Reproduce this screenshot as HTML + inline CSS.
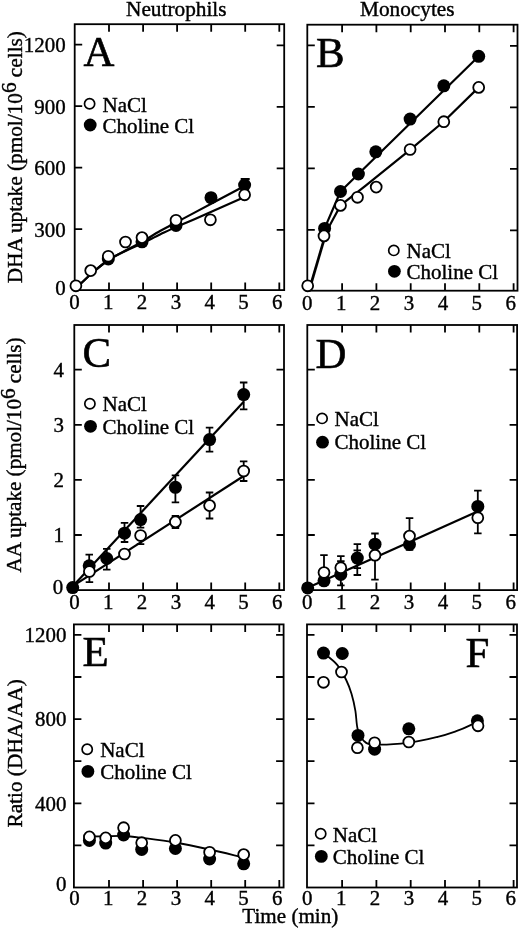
<!DOCTYPE html>
<html><head><meta charset="utf-8"><style>html,body{margin:0;padding:0;background:#fff;width:520px;height:928px;overflow:hidden}svg{display:block;will-change:transform}</style></head>
<body>
<svg width="520" height="928" viewBox="0 0 520 928">
<style>text{font-family:"Liberation Serif",serif;fill:#000;stroke:#000;stroke-width:0.4px}.t{font-size:21.8px}.lg{font-size:21px}.big{font-size:42.8px;stroke-width:0.6px}.ax{font-size:21.5px}.ti{font-size:21.3px}</style>
<rect width="520" height="928" fill="#fff"/>
<text x="176.3" y="15.6" text-anchor="middle" class="ti">Neutrophils</text>
<text x="407.3" y="15.6" text-anchor="middle" class="ti">Monocytes</text>
<text x="290.3" y="922.8" text-anchor="middle" class="t" style="font-size:21.1px">Time (min)</text>
<text transform="translate(21.5 157.2) rotate(-90) scale(0.99 1)" text-anchor="middle" class="ax">DHA uptake (pmol/10<tspan dy="-6">6</tspan><tspan dy="6"> cells)</tspan></text>
<text transform="translate(21.3 455) rotate(-90) scale(0.982 1)" text-anchor="middle" class="ax">AA uptake (pmol/10<tspan dy="-6">6</tspan><tspan dy="6"> cells)</tspan></text>
<text transform="translate(22.0 753.4) rotate(-90) scale(0.99 1)" text-anchor="middle" class="ax">Ratio (DHA/AA)</text>
<rect x="74.7" y="24.2" width="209.5" height="265.9" fill="none" stroke="#000" stroke-width="1.8"/>
<path d="M109.0 290.1v-7.5M109.0 24.2v7.5M143.1 290.1v-7.5M143.1 24.2v7.5M177.1 290.1v-7.5M177.1 24.2v7.5M211.2 290.1v-7.5M211.2 24.2v7.5M245.2 290.1v-7.5M245.2 24.2v7.5M279.3 290.1v-7.5M279.3 24.2v7.5M74.7 229.1h7.5M284.2 229.8h-7.5M74.7 167.6h7.5M284.2 168.3h-7.5M74.7 106.1h7.5M284.2 106.8h-7.5M74.7 44.7h7.5M284.2 45.4h-7.5" stroke="#000" stroke-width="1.8" fill="none"/>
<text transform="translate(74.5 309.1) scale(0.96 1)" text-anchor="middle" class="t">0</text>
<text transform="translate(108.3 309.1) scale(0.96 1)" text-anchor="middle" class="t">1</text>
<text transform="translate(142.1 309.1) scale(0.96 1)" text-anchor="middle" class="t">2</text>
<text transform="translate(175.9 309.1) scale(0.96 1)" text-anchor="middle" class="t">3</text>
<text transform="translate(209.7 309.1) scale(0.96 1)" text-anchor="middle" class="t">4</text>
<text transform="translate(243.5 309.1) scale(0.96 1)" text-anchor="middle" class="t">5</text>
<text transform="translate(277.3 309.1) scale(0.96 1)" text-anchor="middle" class="t">6</text>
<text transform="translate(65.6 294.5) scale(0.96 1)" text-anchor="end" class="t">0</text>
<text transform="translate(65.6 236.5) scale(0.96 1)" text-anchor="end" class="t">300</text>
<text transform="translate(65.6 175.0) scale(0.96 1)" text-anchor="end" class="t">600</text>
<text transform="translate(65.6 113.5) scale(0.96 1)" text-anchor="end" class="t">900</text>
<text transform="translate(65.6 52.1) scale(0.96 1)" text-anchor="end" class="t">1200</text>
<rect x="74.3" y="325.0" width="209.7" height="265.1" fill="none" stroke="#000" stroke-width="1.8"/>
<path d="M109.0 590.1v-7.5M109.0 325.0v7.5M143.1 590.1v-7.5M143.1 325.0v7.5M177.1 590.1v-7.5M177.1 325.0v7.5M211.2 590.1v-7.5M211.2 325.0v7.5M245.2 590.1v-7.5M245.2 325.0v7.5M279.3 590.1v-7.5M279.3 325.0v7.5M74.3 535.0h7.5M284.0 535.0h-7.5M74.3 479.9h7.5M284.0 479.9h-7.5M74.3 424.8h7.5M284.0 424.8h-7.5M74.3 369.7h7.5M284.0 369.7h-7.5" stroke="#000" stroke-width="1.8" fill="none"/>
<text transform="translate(74.5 609.1) scale(0.96 1)" text-anchor="middle" class="t">0</text>
<text transform="translate(108.3 609.1) scale(0.96 1)" text-anchor="middle" class="t">1</text>
<text transform="translate(142.1 609.1) scale(0.96 1)" text-anchor="middle" class="t">2</text>
<text transform="translate(175.9 609.1) scale(0.96 1)" text-anchor="middle" class="t">3</text>
<text transform="translate(209.7 609.1) scale(0.96 1)" text-anchor="middle" class="t">4</text>
<text transform="translate(243.5 609.1) scale(0.96 1)" text-anchor="middle" class="t">5</text>
<text transform="translate(277.3 609.1) scale(0.96 1)" text-anchor="middle" class="t">6</text>
<text transform="translate(63.3 594.0) scale(0.96 1)" text-anchor="end" class="t">0</text>
<text transform="translate(64.0 542.3) scale(0.96 1)" text-anchor="end" class="t">1</text>
<text transform="translate(64.0 487.2) scale(0.96 1)" text-anchor="end" class="t">2</text>
<text transform="translate(64.0 432.1) scale(0.96 1)" text-anchor="end" class="t">3</text>
<text transform="translate(64.0 377.0) scale(0.96 1)" text-anchor="end" class="t">4</text>
<rect x="73.9" y="624.4" width="209.7" height="263.1" fill="none" stroke="#000" stroke-width="1.8"/>
<path d="M109.0 887.5v-7.5M109.0 624.4v7.5M143.1 887.5v-7.5M143.1 624.4v7.5M177.1 887.5v-7.5M177.1 624.4v7.5M211.2 887.5v-7.5M211.2 624.4v7.5M245.2 887.5v-7.5M245.2 624.4v7.5M279.3 887.5v-7.5M279.3 624.4v7.5M73.9 845.4h7.5M283.6 845.4h-7.5M73.9 803.3h7.5M283.6 803.3h-7.5M73.9 761.2h7.5M283.6 761.2h-7.5M73.9 719.1h7.5M283.6 719.1h-7.5M73.9 677.0h7.5M283.6 677.0h-7.5M73.9 634.9h7.5M283.6 634.9h-7.5" stroke="#000" stroke-width="1.8" fill="none"/>
<text transform="translate(74.5 905.4) scale(0.96 1)" text-anchor="middle" class="t">0</text>
<text transform="translate(108.3 905.4) scale(0.96 1)" text-anchor="middle" class="t">1</text>
<text transform="translate(142.1 905.4) scale(0.96 1)" text-anchor="middle" class="t">2</text>
<text transform="translate(175.9 905.4) scale(0.96 1)" text-anchor="middle" class="t">3</text>
<text transform="translate(209.7 905.4) scale(0.96 1)" text-anchor="middle" class="t">4</text>
<text transform="translate(243.5 905.4) scale(0.96 1)" text-anchor="middle" class="t">5</text>
<text transform="translate(277.3 905.4) scale(0.96 1)" text-anchor="middle" class="t">6</text>
<text transform="translate(66.4 891.4) scale(0.96 1)" text-anchor="end" class="t">0</text>
<text transform="translate(66.4 810.6) scale(0.96 1)" text-anchor="end" class="t">400</text>
<text transform="translate(66.4 726.4) scale(0.96 1)" text-anchor="end" class="t">800</text>
<text transform="translate(66.4 642.2) scale(0.96 1)" text-anchor="end" class="t">1200</text>
<rect x="307.3" y="24.7" width="210.2" height="266.0" fill="none" stroke="#000" stroke-width="1.8"/>
<path d="M342.1 290.7v-7.5M342.1 24.7v7.5M376.4 290.7v-7.5M376.4 24.7v7.5M410.7 290.7v-7.5M410.7 24.7v7.5M445.0 290.7v-7.5M445.0 24.7v7.5M479.3 290.7v-7.5M479.3 24.7v7.5M513.6 290.7v-7.5M513.6 24.7v7.5M307.3 229.8h7.5M517.5 230.3h-7.5M307.3 168.3h7.5M517.5 168.8h-7.5M307.3 106.8h7.5M517.5 107.3h-7.5M307.3 45.4h7.5M517.5 45.9h-7.5" stroke="#000" stroke-width="1.8" fill="none"/>
<text transform="translate(307.3 309.7) scale(0.96 1)" text-anchor="middle" class="t">0</text>
<text transform="translate(341.2 309.7) scale(0.96 1)" text-anchor="middle" class="t">1</text>
<text transform="translate(375.1 309.7) scale(0.96 1)" text-anchor="middle" class="t">2</text>
<text transform="translate(409.0 309.7) scale(0.96 1)" text-anchor="middle" class="t">3</text>
<text transform="translate(442.9 309.7) scale(0.96 1)" text-anchor="middle" class="t">4</text>
<text transform="translate(476.8 309.7) scale(0.96 1)" text-anchor="middle" class="t">5</text>
<text transform="translate(510.7 309.7) scale(0.96 1)" text-anchor="middle" class="t">6</text>
<rect x="307.3" y="325.0" width="209.8" height="265.1" fill="none" stroke="#000" stroke-width="1.8"/>
<path d="M342.1 590.1v-7.5M342.1 325.0v7.5M376.4 590.1v-7.5M376.4 325.0v7.5M410.7 590.1v-7.5M410.7 325.0v7.5M445.0 590.1v-7.5M445.0 325.0v7.5M479.3 590.1v-7.5M479.3 325.0v7.5M513.6 590.1v-7.5M513.6 325.0v7.5M307.3 535.0h7.5M517.1 535.0h-7.5M307.3 479.9h7.5M517.1 479.9h-7.5M307.3 424.8h7.5M517.1 424.8h-7.5M307.3 369.7h7.5M517.1 369.7h-7.5" stroke="#000" stroke-width="1.8" fill="none"/>
<text transform="translate(307.3 609.1) scale(0.96 1)" text-anchor="middle" class="t">0</text>
<text transform="translate(341.2 609.1) scale(0.96 1)" text-anchor="middle" class="t">1</text>
<text transform="translate(375.1 609.1) scale(0.96 1)" text-anchor="middle" class="t">2</text>
<text transform="translate(409.0 609.1) scale(0.96 1)" text-anchor="middle" class="t">3</text>
<text transform="translate(442.9 609.1) scale(0.96 1)" text-anchor="middle" class="t">4</text>
<text transform="translate(476.8 609.1) scale(0.96 1)" text-anchor="middle" class="t">5</text>
<text transform="translate(510.7 609.1) scale(0.96 1)" text-anchor="middle" class="t">6</text>
<rect x="307.0" y="624.4" width="210.0" height="263.1" fill="none" stroke="#000" stroke-width="1.8"/>
<path d="M342.1 887.5v-7.5M342.1 624.4v7.5M376.4 887.5v-7.5M376.4 624.4v7.5M410.7 887.5v-7.5M410.7 624.4v7.5M445.0 887.5v-7.5M445.0 624.4v7.5M479.3 887.5v-7.5M479.3 624.4v7.5M513.6 887.5v-7.5M513.6 624.4v7.5M307.0 845.4h7.5M517.0 845.4h-7.5M307.0 803.3h7.5M517.0 803.3h-7.5M307.0 761.2h7.5M517.0 761.2h-7.5M307.0 719.1h7.5M517.0 719.1h-7.5M307.0 677.0h7.5M517.0 677.0h-7.5M307.0 634.9h7.5M517.0 634.9h-7.5" stroke="#000" stroke-width="1.8" fill="none"/>
<text transform="translate(307.3 905.4) scale(0.96 1)" text-anchor="middle" class="t">0</text>
<text transform="translate(341.2 905.4) scale(0.96 1)" text-anchor="middle" class="t">1</text>
<text transform="translate(375.1 905.4) scale(0.96 1)" text-anchor="middle" class="t">2</text>
<text transform="translate(409.0 905.4) scale(0.96 1)" text-anchor="middle" class="t">3</text>
<text transform="translate(442.9 905.4) scale(0.96 1)" text-anchor="middle" class="t">4</text>
<text transform="translate(476.8 905.4) scale(0.96 1)" text-anchor="middle" class="t">5</text>
<text transform="translate(510.7 905.4) scale(0.96 1)" text-anchor="middle" class="t">6</text>
<text x="83.5" y="65.8" class="big">A</text>
<circle cx="89.6" cy="103.7" r="5.1" fill="#fff" stroke="#000" stroke-width="1.7"/>
<circle cx="90.2" cy="125" r="6.4" fill="#000"/>
<text x="102.5" y="111.5" class="lg">NaCl</text>
<text x="102.5" y="133" class="lg">Choline Cl</text>
<path d="M74.8 289.5C77.6 286.8 86.0 278.4 91.6 273.5C97.2 268.6 102.8 263.8 108.5 260.0C114.2 256.2 119.9 253.5 125.5 250.5C131.1 247.5 136.2 245.2 142.0 242.0C147.8 238.8 154.3 234.2 160.0 231.0C165.7 227.8 170.2 225.6 176.0 222.5C181.8 219.4 183.6 218.5 195.0 212.4C206.4 206.3 236.3 190.4 244.6 186.0" fill="none" stroke="#000" stroke-width="2.2" stroke-linejoin="round"/>
<path d="M74.8 289.5C77.6 286.8 86.0 278.4 91.6 273.5C97.2 268.6 102.8 263.8 108.5 260.0C114.2 256.2 119.9 253.8 125.5 251.0C131.1 248.2 136.2 246.2 142.0 243.5C147.8 240.8 154.3 237.2 160.0 234.5C165.7 231.8 170.2 229.6 176.0 227.0C181.8 224.4 183.6 224.1 195.0 219.1C206.4 214.1 236.3 200.7 244.6 197.0" fill="none" stroke="#000" stroke-width="2.2" stroke-linejoin="round"/>
<path d="M245.2 179V185M240.7 179h9" stroke="#000" stroke-width="1.8" fill="none"/>
<circle cx="108.3" cy="259" r="6.5" fill="#000"/>
<circle cx="142" cy="241.8" r="6.5" fill="#000"/>
<circle cx="176" cy="225.5" r="6.5" fill="#000"/>
<circle cx="211" cy="197.7" r="6.5" fill="#000"/>
<circle cx="244.6" cy="185" r="6.5" fill="#000"/>
<circle cx="75.9" cy="285.8" r="5.45" fill="#fff" stroke="#000" stroke-width="1.8"/>
<circle cx="90.7" cy="270.6" r="5.45" fill="#fff" stroke="#000" stroke-width="1.8"/>
<circle cx="108.3" cy="256.3" r="5.45" fill="#fff" stroke="#000" stroke-width="1.8"/>
<circle cx="125.5" cy="242" r="5.45" fill="#fff" stroke="#000" stroke-width="1.8"/>
<circle cx="142" cy="237.6" r="5.45" fill="#fff" stroke="#000" stroke-width="1.8"/>
<circle cx="176" cy="220.3" r="5.45" fill="#fff" stroke="#000" stroke-width="1.8"/>
<circle cx="210.4" cy="219.8" r="5.45" fill="#fff" stroke="#000" stroke-width="1.8"/>
<circle cx="244.6" cy="194.8" r="5.45" fill="#fff" stroke="#000" stroke-width="1.8"/>
<text x="316" y="66.8" class="big">B</text>
<circle cx="393.8" cy="250.4" r="5.1" fill="#fff" stroke="#000" stroke-width="1.7"/>
<circle cx="394.4" cy="271.3" r="6.4" fill="#000"/>
<text x="406.5" y="257.8" class="lg">NaCl</text>
<text x="406.5" y="279.1" class="lg">Choline Cl</text>
<path d="M311.0 284.0L325.1 236.0" fill="none" stroke="#000" stroke-width="2.7" stroke-linejoin="round"/>
<path d="M324.6 228.4L340.5 191.5L478.7 56.3" fill="none" stroke="#000" stroke-width="2.2" stroke-linejoin="round"/>
<path d="M324.0 235.9L340.5 205.4L366.0 185.3L410.0 149.8L443.8 121.5L478.7 87.4" fill="none" stroke="#000" stroke-width="2.2" stroke-linejoin="round"/>
<circle cx="324.6" cy="228.4" r="6.5" fill="#000"/>
<circle cx="340.5" cy="191.5" r="6.5" fill="#000"/>
<circle cx="358.4" cy="174" r="6.5" fill="#000"/>
<circle cx="375.8" cy="151.8" r="6.5" fill="#000"/>
<circle cx="410.1" cy="119.1" r="6.5" fill="#000"/>
<circle cx="443.8" cy="85.8" r="6.5" fill="#000"/>
<circle cx="478.7" cy="56.3" r="6.5" fill="#000"/>
<circle cx="307.7" cy="285.8" r="5.45" fill="#fff" stroke="#000" stroke-width="1.8"/>
<circle cx="324" cy="235.9" r="5.45" fill="#fff" stroke="#000" stroke-width="1.8"/>
<circle cx="340.5" cy="205.4" r="5.45" fill="#fff" stroke="#000" stroke-width="1.8"/>
<circle cx="357.5" cy="197.3" r="5.45" fill="#fff" stroke="#000" stroke-width="1.8"/>
<circle cx="376.2" cy="187.1" r="5.45" fill="#fff" stroke="#000" stroke-width="1.8"/>
<circle cx="410.1" cy="149.5" r="5.45" fill="#fff" stroke="#000" stroke-width="1.8"/>
<circle cx="443.8" cy="121.7" r="5.45" fill="#fff" stroke="#000" stroke-width="1.8"/>
<circle cx="478.7" cy="87.4" r="5.45" fill="#fff" stroke="#000" stroke-width="1.8"/>
<text x="82.5" y="367.3" class="big">C</text>
<circle cx="89.9" cy="403.8" r="5.1" fill="#fff" stroke="#000" stroke-width="1.7"/>
<circle cx="90.5" cy="426.3" r="6.4" fill="#000"/>
<text x="102.6" y="410.8" class="lg">NaCl</text>
<text x="102.6" y="433.8" class="lg">Choline Cl</text>
<path d="M73.5 585.5L243.7 401.8" fill="none" stroke="#000" stroke-width="2.2" stroke-linejoin="round"/>
<path d="M73.5 585.6L243.7 476.0" fill="none" stroke="#000" stroke-width="2.2" stroke-linejoin="round"/>
<path d="M89.2 554.6V565.8M85.5 554.6h7.5M85.5 565.8h7.5" stroke="#000" stroke-width="1.8" fill="none"/>
<path d="M106.8 548.8V569.6M103.0 548.8h7.5M103.0 569.6h7.5" stroke="#000" stroke-width="1.8" fill="none"/>
<path d="M124.5 522.8V542M120.8 522.8h7.5M120.8 542h7.5" stroke="#000" stroke-width="1.8" fill="none"/>
<path d="M140.6 506V527.7M136.8 506h7.5M136.8 527.7h7.5" stroke="#000" stroke-width="1.8" fill="none"/>
<path d="M175.4 475.4V502.3M171.7 475.4h7.5M171.7 502.3h7.5" stroke="#000" stroke-width="1.8" fill="none"/>
<path d="M209.6 427.7V451.7M205.8 427.7h7.5M205.8 451.7h7.5" stroke="#000" stroke-width="1.8" fill="none"/>
<path d="M243.7 382.5V409.4M239.9 382.5h7.5M239.9 409.4h7.5" stroke="#000" stroke-width="1.8" fill="none"/>
<path d="M89.4 571.5V582.1M85.7 571.5h7.5M85.7 582.1h7.5" stroke="#000" stroke-width="1.8" fill="none"/>
<path d="M140.6 535.5V544.1M136.8 535.5h7.5M136.8 544.1h7.5" stroke="#000" stroke-width="1.8" fill="none"/>
<path d="M175.4 516V528M171.7 516h7.5M171.7 528h7.5" stroke="#000" stroke-width="1.8" fill="none"/>
<path d="M209.6 492.5V518.5M205.8 492.5h7.5M205.8 518.5h7.5" stroke="#000" stroke-width="1.8" fill="none"/>
<path d="M243.7 461.3V481M239.9 461.3h7.5M239.9 481h7.5" stroke="#000" stroke-width="1.8" fill="none"/>
<circle cx="72.7" cy="587.6" r="6.5" fill="#000"/>
<circle cx="89.2" cy="565.8" r="6.5" fill="#000"/>
<circle cx="106.8" cy="558.5" r="6.5" fill="#000"/>
<circle cx="124.5" cy="533.2" r="6.5" fill="#000"/>
<circle cx="140.6" cy="519.6" r="6.5" fill="#000"/>
<circle cx="175.4" cy="487.3" r="6.5" fill="#000"/>
<circle cx="209.6" cy="439.6" r="6.5" fill="#000"/>
<circle cx="243.7" cy="394.6" r="6.5" fill="#000"/>
<circle cx="89.4" cy="571.5" r="5.45" fill="#fff" stroke="#000" stroke-width="1.8"/>
<circle cx="124.5" cy="554" r="5.45" fill="#fff" stroke="#000" stroke-width="1.8"/>
<circle cx="140.6" cy="535.5" r="5.45" fill="#fff" stroke="#000" stroke-width="1.8"/>
<circle cx="175.4" cy="521.9" r="5.45" fill="#fff" stroke="#000" stroke-width="1.8"/>
<circle cx="209.6" cy="505.6" r="5.45" fill="#fff" stroke="#000" stroke-width="1.8"/>
<circle cx="243.7" cy="471" r="5.45" fill="#fff" stroke="#000" stroke-width="1.8"/>
<text x="315.5" y="368" class="big">D</text>
<circle cx="322.1" cy="418.4" r="5.1" fill="#fff" stroke="#000" stroke-width="1.7"/>
<circle cx="322.5" cy="442.2" r="6.4" fill="#000"/>
<text x="334.5" y="426.3" class="lg">NaCl</text>
<text x="334.5" y="449.4" class="lg">Choline Cl</text>
<path d="M307.7 587.8L478.0 511.2" fill="none" stroke="#000" stroke-width="2.2" stroke-linejoin="round"/>
<path d="M324 555.2V572.5M320.2 555.2h7.5M320.2 572.5h7.5" stroke="#000" stroke-width="1.8" fill="none"/>
<path d="M340.8 556.2V585.4M337.1 556.2h7.5M337.1 585.4h7.5" stroke="#000" stroke-width="1.8" fill="none"/>
<path d="M357.3 544.2V575M353.6 544.2h7.5M353.6 575h7.5" stroke="#000" stroke-width="1.8" fill="none"/>
<path d="M375 533.5V579.6M371.2 533.5h7.5M371.2 579.6h7.5" stroke="#000" stroke-width="1.8" fill="none"/>
<path d="M409.5 518.1V549.8M405.8 518.1h7.5M405.8 549.8h7.5" stroke="#000" stroke-width="1.8" fill="none"/>
<path d="M477.8 490.6V533.3M474.1 490.6h7.5M474.1 533.3h7.5" stroke="#000" stroke-width="1.8" fill="none"/>
<path d="M337.1 561.2h7.5M353.5 550.4h7.5M353.5 568.2h7.5" stroke="#000" stroke-width="1.8" fill="none"/>
<circle cx="307.7" cy="587.9" r="6.5" fill="#000"/>
<circle cx="324" cy="580.8" r="6.5" fill="#000"/>
<circle cx="340.8" cy="574.4" r="6.5" fill="#000"/>
<circle cx="357.3" cy="558.1" r="6.5" fill="#000"/>
<circle cx="375" cy="544.2" r="6.5" fill="#000"/>
<circle cx="409.5" cy="544.5" r="6.5" fill="#000"/>
<circle cx="477.8" cy="506.4" r="6.5" fill="#000"/>
<circle cx="324" cy="572.5" r="5.45" fill="#fff" stroke="#000" stroke-width="1.8"/>
<circle cx="340.8" cy="567.7" r="5.45" fill="#fff" stroke="#000" stroke-width="1.8"/>
<circle cx="375" cy="555.2" r="5.45" fill="#fff" stroke="#000" stroke-width="1.8"/>
<circle cx="409.5" cy="536.1" r="5.45" fill="#fff" stroke="#000" stroke-width="1.8"/>
<circle cx="477.8" cy="517.7" r="5.45" fill="#fff" stroke="#000" stroke-width="1.8"/>
<text x="82.5" y="665.6" class="big">E</text>
<circle cx="87.2" cy="749.2" r="5.1" fill="#fff" stroke="#000" stroke-width="1.7"/>
<circle cx="87.9" cy="771.4" r="6.4" fill="#000"/>
<text x="100.2" y="756.9" class="lg">NaCl</text>
<text x="100.2" y="778.9" class="lg">Choline Cl</text>
<path d="M89.4 836.5C92.1 836.5 100.0 836.4 105.7 836.3C111.4 836.2 117.6 835.8 123.6 836.0C129.6 836.2 133.1 836.7 141.7 837.8C150.3 838.9 164.1 840.5 175.4 842.5C186.7 844.5 198.2 847.0 209.6 849.5C221.0 852.0 238.0 856.2 243.7 857.5" fill="none" stroke="#000" stroke-width="1.8" stroke-linejoin="round"/>
<circle cx="89.4" cy="840.4" r="6.5" fill="#000"/>
<circle cx="105.7" cy="843.1" r="6.5" fill="#000"/>
<circle cx="123.6" cy="835" r="6.5" fill="#000"/>
<circle cx="141.7" cy="849.4" r="6.5" fill="#000"/>
<circle cx="175.4" cy="848.5" r="6.5" fill="#000"/>
<circle cx="209.6" cy="859" r="6.5" fill="#000"/>
<circle cx="243.7" cy="863.8" r="6.5" fill="#000"/>
<circle cx="89.4" cy="836.9" r="5.45" fill="#fff" stroke="#000" stroke-width="1.8"/>
<circle cx="105.7" cy="837.9" r="5.45" fill="#fff" stroke="#000" stroke-width="1.8"/>
<circle cx="123.6" cy="827.7" r="5.45" fill="#fff" stroke="#000" stroke-width="1.8"/>
<circle cx="141.7" cy="842.7" r="5.45" fill="#fff" stroke="#000" stroke-width="1.8"/>
<circle cx="175.4" cy="840.4" r="5.45" fill="#fff" stroke="#000" stroke-width="1.8"/>
<circle cx="209.6" cy="852.3" r="5.45" fill="#fff" stroke="#000" stroke-width="1.8"/>
<circle cx="243.7" cy="854.6" r="5.45" fill="#fff" stroke="#000" stroke-width="1.8"/>
<text x="465.5" y="666.5" class="big">F</text>
<circle cx="320.7" cy="833.8" r="5.1" fill="#fff" stroke="#000" stroke-width="1.7"/>
<circle cx="321.3" cy="856.4" r="6.4" fill="#000"/>
<text x="332.8" y="841.5" class="lg">NaCl</text>
<text x="332.8" y="863.9" class="lg">Choline Cl</text>
<path d="M323.5 653.0C325.8 654.9 333.2 660.1 337.0 664.6C340.8 669.1 343.8 675.1 346.2 680.0C348.6 684.9 350.0 688.7 351.5 693.8C353.0 698.9 354.4 704.9 355.4 710.8C356.4 716.7 356.3 724.2 357.7 729.2C359.1 734.2 361.0 738.2 363.8 740.8C366.6 743.4 367.1 744.3 374.6 744.6C382.1 744.9 398.3 744.0 408.8 742.7C419.3 741.4 429.8 738.8 437.7 736.9C445.6 735.0 450.8 733.1 456.2 731.2C461.6 729.3 466.4 727.2 470.0 725.4C473.6 723.6 476.7 721.3 478.0 720.5" fill="none" stroke="#000" stroke-width="1.8" stroke-linejoin="round"/>
<circle cx="323.5" cy="653.1" r="6.5" fill="#000"/>
<circle cx="342.3" cy="653.5" r="6.5" fill="#000"/>
<circle cx="358" cy="735.4" r="6.5" fill="#000"/>
<circle cx="374.6" cy="749.2" r="6.5" fill="#000"/>
<circle cx="408.8" cy="728.8" r="6.5" fill="#000"/>
<circle cx="477.4" cy="720.8" r="6.5" fill="#000"/>
<circle cx="323.5" cy="682.3" r="5.45" fill="#fff" stroke="#000" stroke-width="1.8"/>
<circle cx="341.5" cy="672" r="5.45" fill="#fff" stroke="#000" stroke-width="1.8"/>
<circle cx="357.4" cy="747.7" r="5.45" fill="#fff" stroke="#000" stroke-width="1.8"/>
<circle cx="374.6" cy="742.8" r="5.45" fill="#fff" stroke="#000" stroke-width="1.8"/>
<circle cx="408.8" cy="742" r="5.45" fill="#fff" stroke="#000" stroke-width="1.8"/>
<circle cx="478" cy="725.8" r="5.45" fill="#fff" stroke="#000" stroke-width="1.8"/>
</svg>
</body></html>
